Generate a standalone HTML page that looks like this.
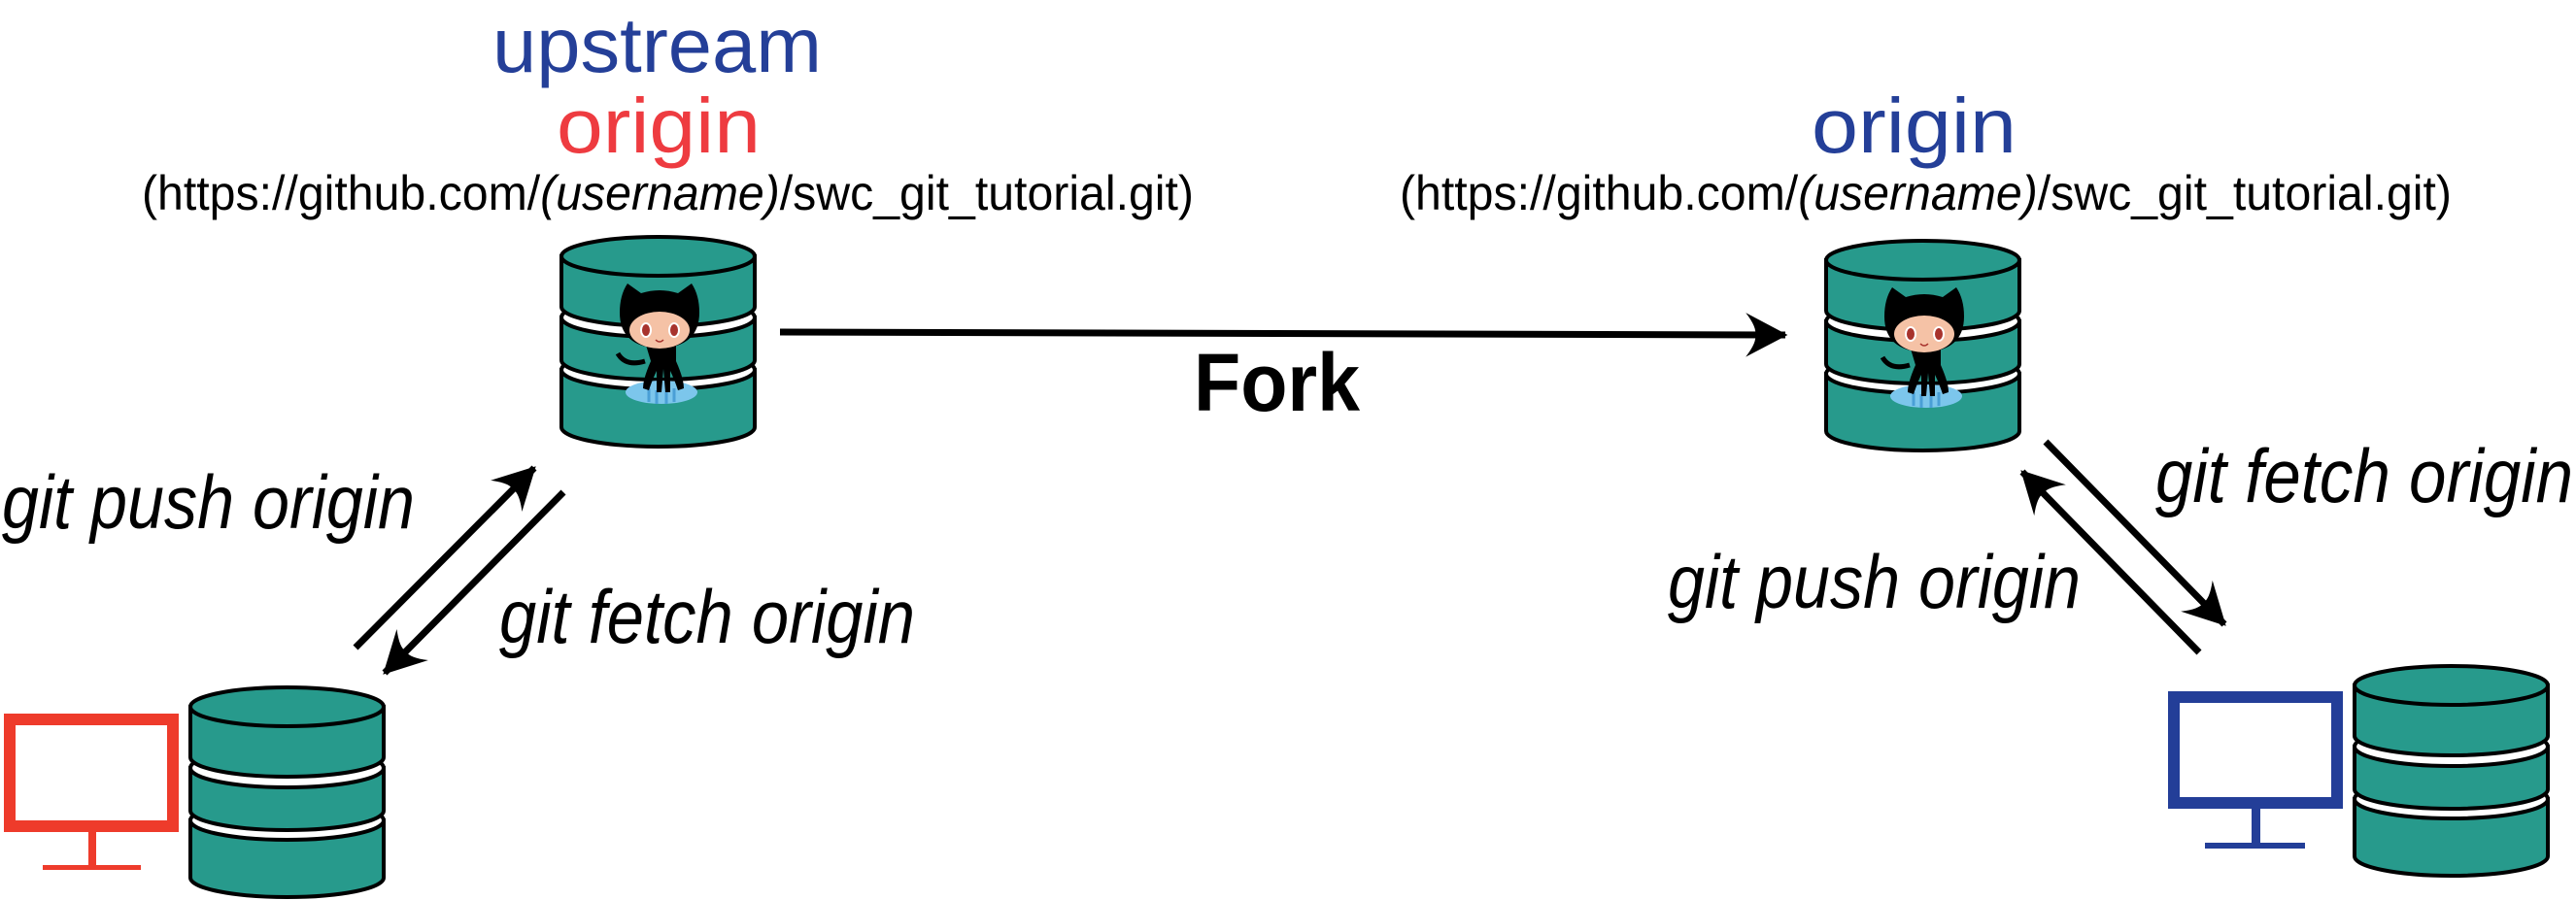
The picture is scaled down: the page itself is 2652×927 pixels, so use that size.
<!DOCTYPE html>
<html><head><meta charset="utf-8"><style>html,body{margin:0;padding:0;background:#fff}svg{display:block}</style></head>
<body>
<svg width="2652" height="927" viewBox="0 0 2652 927" xmlns="http://www.w3.org/2000/svg">
<defs>
<marker id="ah" markerUnits="userSpaceOnUse" markerWidth="60" markerHeight="60" viewBox="-40 -25 45 50" refX="0" refY="0" orient="auto">
<path d="M2,0 L-34,-19 Q-24,-6 -26,0 Q-24,6 -34,19 Z" fill="#000"/>
</marker>
<g id="db" stroke="#000" stroke-width="4">
<path d="M0,117 V176 A99.5,20 0 0 0 199,176 V117 Z" fill="#279a8c"/>
<ellipse cx="99.5" cy="117" rx="99.5" ry="20" fill="#fff"/>
<path d="M0,63 V107 A99.5,20 0 0 0 199,107 V63 Z" fill="#279a8c"/>
<ellipse cx="99.5" cy="63" rx="99.5" ry="20" fill="#fff"/>
<path d="M0,0 V52 A99.5,20 0 0 0 199,52 V0 Z" fill="#279a8c"/>
<ellipse cx="99.5" cy="0" rx="99.5" ry="20" fill="#279a8c"/>
</g>
<g id="cat">
<ellipse cx="681" cy="404" rx="37" ry="12" fill="#7cc6ec"/>
<path d="M668,400 v14 M676,402 v14 M686,402 v14 M694,400 v14" stroke="#4a9fd6" stroke-width="3"/>
<path d="M638,322 q0,-18 8,-30 l14,10 q19,-6 38,0 l14,-10 q8,12 8,30 q0,35 -41,37 q-41,-2 -41,-37 Z" fill="#000"/>
<path d="M664,352 h32 v20 q8,18 8,28 l-6,2 q-4,-12 -8,-20 l0,22 h-5 l-2,-24 l-2,24 h-5 l0,-22 q-4,8 -8,20 l-6,-2 q0,-10 8,-28 Z" fill="#000"/>
<path d="M664,372 q-20,6 -28,-8" stroke="#000" stroke-width="5" fill="none"/>
<ellipse cx="679" cy="340" rx="31" ry="19" fill="#f5c2a6"/>
<ellipse cx="665" cy="340" rx="6" ry="8" fill="#fff"/><ellipse cx="665" cy="340" rx="4" ry="6" fill="#a8332d"/>
<ellipse cx="694" cy="340" rx="6" ry="8" fill="#fff"/><ellipse cx="694" cy="340" rx="4" ry="6" fill="#a8332d"/>
<path d="M675,350 q4,4 8,0" stroke="#a8332d" stroke-width="1.5" fill="none"/>
</g>
</defs>

<!-- titles -->
<text x="507" y="74" font-family="Liberation Sans, sans-serif" font-size="80" fill="#243f98" textLength="339" lengthAdjust="spacingAndGlyphs">upstream</text>
<text x="573" y="157" font-family="Liberation Sans, sans-serif" font-size="80" fill="#ee3b40" textLength="210" lengthAdjust="spacingAndGlyphs">origin</text>
<text x="1865" y="157" font-family="Liberation Sans, sans-serif" font-size="80" fill="#243f98" textLength="211" lengthAdjust="spacingAndGlyphs">origin</text>
<text x="146" y="216" font-family="Liberation Sans, sans-serif" font-size="50" fill="#000" textLength="1083" lengthAdjust="spacingAndGlyphs">(https://github.com/<tspan font-style="italic">(username)</tspan>/swc_git_tutorial.git)</text>
<text x="1441" y="216" font-family="Liberation Sans, sans-serif" font-size="50" fill="#000" textLength="1083" lengthAdjust="spacingAndGlyphs">(https://github.com/<tspan font-style="italic">(username)</tspan>/swc_git_tutorial.git)</text>

<!-- databases -->
<use href="#db" transform="translate(578,264)"/>
<use href="#cat"/>
<use href="#db" transform="translate(1880,268)"/>
<use href="#cat" transform="translate(1302,4)"/>
<use href="#db" transform="translate(196,728)"/>
<use href="#db" transform="translate(2424,706)"/>

<!-- fork -->
<line x1="803" y1="342" x2="1838" y2="345" stroke="#000" stroke-width="7" marker-end="url(#ah)"/>
<text x="1229" y="423" font-family="Liberation Sans, sans-serif" font-size="84" font-weight="bold" fill="#000" textLength="171" lengthAdjust="spacingAndGlyphs">Fork</text>

<!-- left arrows -->
<line x1="366" y1="667" x2="550" y2="482" stroke="#000" stroke-width="7" marker-end="url(#ah)"/>
<line x1="580" y1="507" x2="396" y2="693" stroke="#000" stroke-width="7" marker-end="url(#ah)"/>
<text x="2" y="544" font-family="Liberation Sans, sans-serif" font-style="italic" font-size="78" fill="#000" textLength="425" lengthAdjust="spacingAndGlyphs">git push origin</text>
<text x="514" y="662" font-family="Liberation Sans, sans-serif" font-style="italic" font-size="78" fill="#000" textLength="428" lengthAdjust="spacingAndGlyphs">git fetch origin</text>

<!-- right arrows -->
<line x1="2106" y1="455" x2="2290" y2="643" stroke="#000" stroke-width="7" marker-end="url(#ah)"/>
<line x1="2264" y1="672" x2="2082" y2="486" stroke="#000" stroke-width="7" marker-end="url(#ah)"/>
<text x="2219" y="517" font-family="Liberation Sans, sans-serif" font-style="italic" font-size="78" fill="#000" textLength="430" lengthAdjust="spacingAndGlyphs">git fetch origin</text>
<text x="1717" y="626" font-family="Liberation Sans, sans-serif" font-style="italic" font-size="78" fill="#000" textLength="425" lengthAdjust="spacingAndGlyphs">git push origin</text>

<!-- red monitor -->
<rect x="10" y="741" width="168" height="110" fill="none" stroke="#ee3b2b" stroke-width="12"/>
<rect x="91" y="857" width="8" height="36" fill="#ee3b2b"/>
<rect x="44" y="891" width="101" height="5" fill="#ee3b2b"/>

<!-- blue monitor -->
<rect x="2238" y="718" width="168" height="109" fill="none" stroke="#233e98" stroke-width="12"/>
<rect x="2318" y="833" width="9" height="37" fill="#233e98"/>
<rect x="2270" y="868" width="103" height="6" fill="#233e98"/>
</svg>
</body></html>
